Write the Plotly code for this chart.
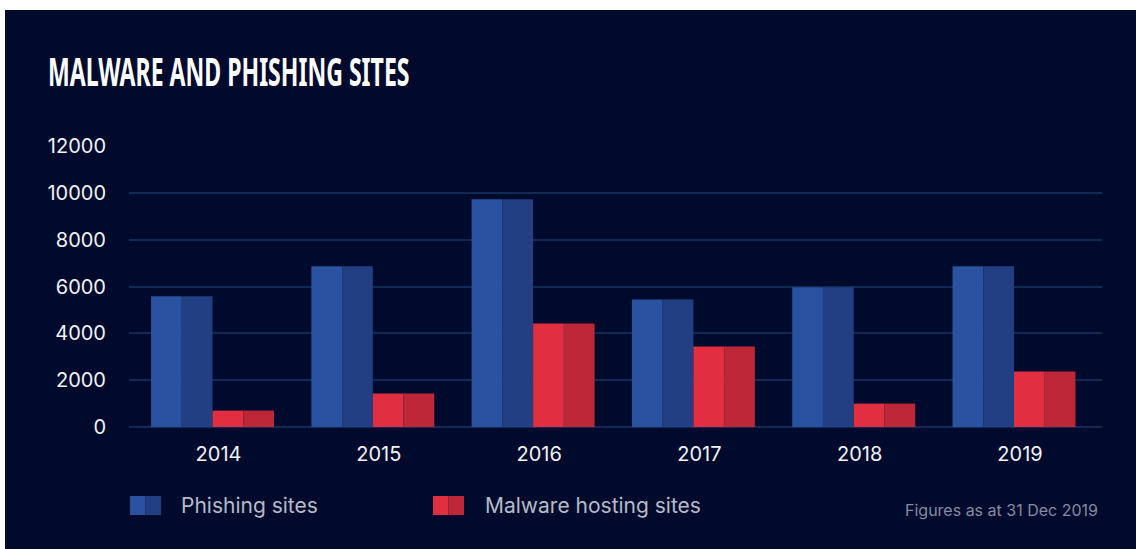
import plotly.graph_objects as go

years = ["2014", "2015", "2016", "2017", "2018", "2019"]
phishing = [5580, 6870, 9730, 5450, 5970, 6870]
malware = [700, 1430, 4420, 3440, 1000, 2370]
y_ticks = [0, 2000, 4000, 6000, 8000, 10000, 12000]

W, H = 1136, 549
M_L, M_R, M_T, M_B = 129, 34, 146, 122

BG = "#000a2c"
GRID = "#0f2a55"
PHISH_L, PHISH_R = "#2a52a1", "#213f82"
MAL_L, MAL_R = "#e12e41", "#bd2737"
TITLE_X = 48


def px_x(px):
    # pixel -> paper x
    return (px - M_L) / (W - M_L - M_R)


def px_y(py):
    # pixel -> paper y
    return (H - M_B - py) / (H - M_T - M_B)


fig = go.Figure()

# each series drawn as two halves (light + dark) to get the two-tone look
for vals, col, name in [(phishing, PHISH_L, "Phishing sites"), (phishing, PHISH_R, "Phishing sites"),
                        (malware, MAL_L, "Malware hosting sites"), (malware, MAL_R, "Malware hosting sites")]:
    fig.add_trace(go.Bar(
        x=years, y=vals, name=name,
        marker=dict(color=col, line=dict(width=0)),
        showlegend=False, hoverinfo="skip",
    ))

shapes = [
    # white strips around the dark panel
    dict(type="rect", xref="paper", yref="paper", x0=px_x(0), x1=px_x(W), y0=px_y(10), y1=px_y(0),
         fillcolor="white", line=dict(width=0), layer="below"),
    dict(type="rect", xref="paper", yref="paper", x0=px_x(0), x1=px_x(5), y0=px_y(H), y1=px_y(0),
         fillcolor="white", line=dict(width=0), layer="below"),
]

# legend swatches
for x0, cl, cr in [(130, PHISH_L, PHISH_R), (433, MAL_L, MAL_R)]:
    shapes.append(dict(type="rect", xref="paper", yref="paper", x0=px_x(x0), x1=px_x(x0 + 15.5),
                       y0=px_y(515), y1=px_y(496), fillcolor=cl, line=dict(width=0)))
    shapes.append(dict(type="rect", xref="paper", yref="paper", x0=px_x(x0 + 15.5), x1=px_x(x0 + 31),
                       y0=px_y(515), y1=px_y(496), fillcolor=cr, line=dict(width=0)))

legend_font = dict(family="Inter, Roboto, sans-serif", size=21, color="#b6bac9")
annotations = [
    dict(text="Phishing sites", x=px_x(179), y=px_y(506), xref="paper", yref="paper",
         xanchor="left", yanchor="middle", showarrow=False, font=legend_font),
    dict(text="Malware hosting sites", x=px_x(483), y=px_y(506), xref="paper", yref="paper",
         xanchor="left", yanchor="middle", showarrow=False, font=legend_font),
    dict(text="Figures as at 31 Dec 2019", x=px_x(1100), y=px_y(510), xref="paper", yref="paper",
         xanchor="right", yanchor="middle", showarrow=False,
         font=dict(family="Inter, Roboto, sans-serif", size=16, color="#868ba1")),
]

tick_font = dict(family="Inter, Roboto, sans-serif", size=20, color="#f2f3f6")

fig.update_layout(
    width=W, height=H,
    margin=dict(l=M_L, r=M_R, t=M_T, b=M_B, pad=0),
    paper_bgcolor=BG, plot_bgcolor=BG,
    barmode="group", bargap=0.233, bargroupgap=0,
    title=dict(
        text="MALWARE AND PHISHING SITES",
        x=TITLE_X / W, xanchor="left", xref="container",
        y=1 - 72 / H, yanchor="middle", yref="container",
        font=dict(family="Noto Sans, Open Sans, sans-serif",
                  size=40, color="white", weight="bold"),
    ),
    xaxis=dict(
        type="category", range=[-0.521, 5.549],
        showgrid=False, zeroline=False, showline=False, ticks="",
        tickfont=tick_font,
        ticklabelshift=6, ticklabelstandoff=13,
    ),
    yaxis=dict(
        range=[0, 12000], tickvals=y_ticks, tickformat="d",
        showgrid=True, gridcolor=GRID, gridwidth=1.5,
        zeroline=True, zerolinecolor=GRID, zerolinewidth=1.5,
        showline=False, ticks="",
        tickfont=tick_font,
        ticklabelstandoff=22,
    ),
    shapes=shapes,
    annotations=annotations,
    showlegend=False,
)

# page body has a default 8px margin -> drop it; the title face in the original is a
# very condensed display font, so squeeze the real title text horizontally
post = """
document.body.style.margin='0px';
var t = document.querySelector('.g-gtitle text');
if (t) { t.setAttribute('transform', 'translate(%d,0) scale(0.577,1) translate(-%d,0)'); }
""" % (TITLE_X, TITLE_X)

fig.write_html("out.html", config={"displayModeBar": False}, post_script=post)
